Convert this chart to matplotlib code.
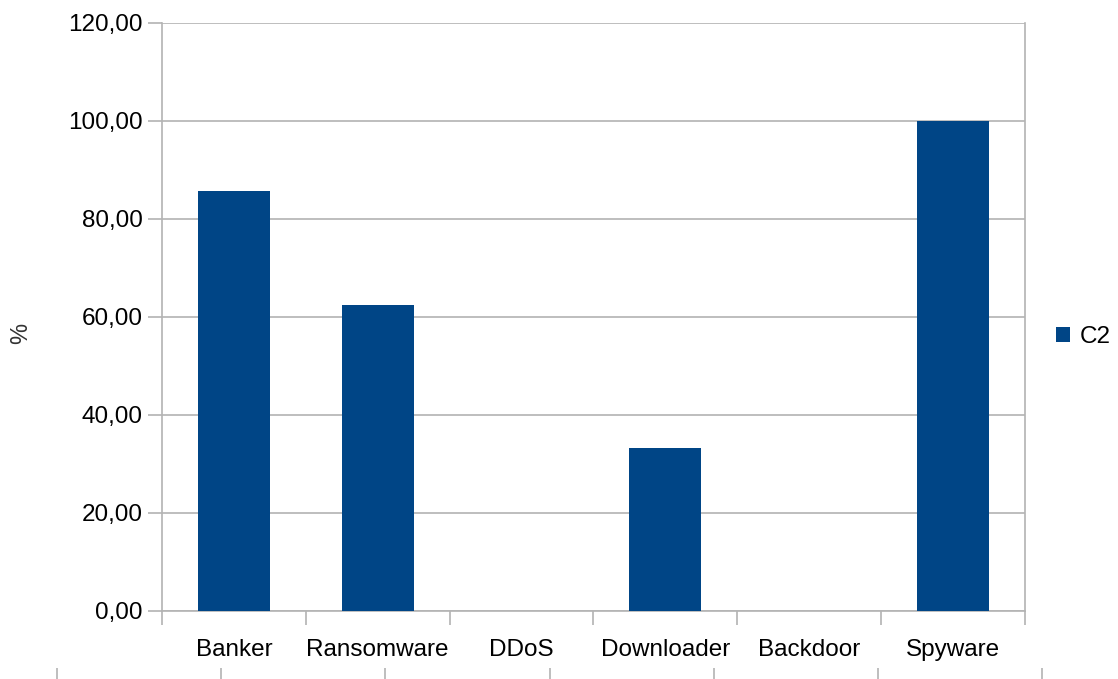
import matplotlib
matplotlib.use("Agg")
import matplotlib.pyplot as plt
import numpy as np

# data
categories = ["Banker", "Ransomware", "DDoS", "Downloader", "Backdoor", "Spyware"]
c2_values = [85.71, 62.50, 0.0, 33.33, 0.0, 100.0]
series_name = "C2"
y_ticks = [0, 20, 40, 60, 80, 100, 120]

BAR_COLOR = "#004586"
GRID_COLOR = "#b3b3b3"

plt.rcParams["font.family"] = ["Liberation Sans", "DejaVu Sans"]

W, H = 1118, 679
fig = plt.figure(figsize=(W / 100, H / 100), dpi=100)
ax = fig.add_axes([162 / W, 1 - 611 / H, (1025 - 162) / W, (611 - 23) / H])

x = np.arange(len(categories))
ax.bar(x, c2_values, width=0.5, color=BAR_COLOR, label=series_name, zorder=3)

ax.set_xlim(-0.5, len(categories) - 0.5)
ax.set_ylim(0, 120)
ax.set_yticks(y_ticks)
ax.set_yticklabels(["%d,00" % v for v in y_ticks])
ax.yaxis.grid(True, color=GRID_COLOR, linewidth=1.2, zorder=0)

# category labels at centres, tick marks at boundaries
ax.set_xticks(x)
ax.set_xticklabels(categories)
ax.set_xticks(np.arange(-0.5, len(categories)), minor=True)
ax.tick_params(axis="x", which="major", length=0, pad=20, labelsize=17.5)
ax.tick_params(axis="x", which="minor", length=10, width=1.2, color=GRID_COLOR)
ax.tick_params(axis="y", length=10, width=1.2, color=GRID_COLOR, labelsize=17.5, pad=4)

for side in ["top", "right"]:
    ax.spines[side].set_visible(False)
for side in ["left", "bottom"]:
    ax.spines[side].set_color(GRID_COLOR)
    ax.spines[side].set_linewidth(1.2)
ax.plot([1, 1], [0, 1], transform=ax.transAxes, color=GRID_COLOR, lw=1.2, clip_on=False)

# y axis title sits far to the left
fig.text(21 / W, 1 - 333 / H, "%", rotation=90, fontsize=17, color="#333333",
         ha="center", va="center")

leg = ax.legend(loc="center left", bbox_to_anchor=(1.010, 0.466), frameon=False,
                fontsize=17.5, handlelength=0.6, handleheight=0.6, handletextpad=0.4)

# stray tick marks at the bottom edge
ax2 = fig.add_axes([57 / W, 0, (1042 - 57) / W, 8 / H])
ax2.set_xlim(0, 6)
ax2.set_xticks(np.arange(7))
ax2.set_xticklabels([])
ax2.set_yticks([])
for s in ax2.spines.values():
    s.set_visible(False)
ax2.tick_params(axis="x", direction="in", length=8, width=1.2, color=GRID_COLOR)
ax2.patch.set_visible(False)

fig.savefig("out.png", dpi=100)
